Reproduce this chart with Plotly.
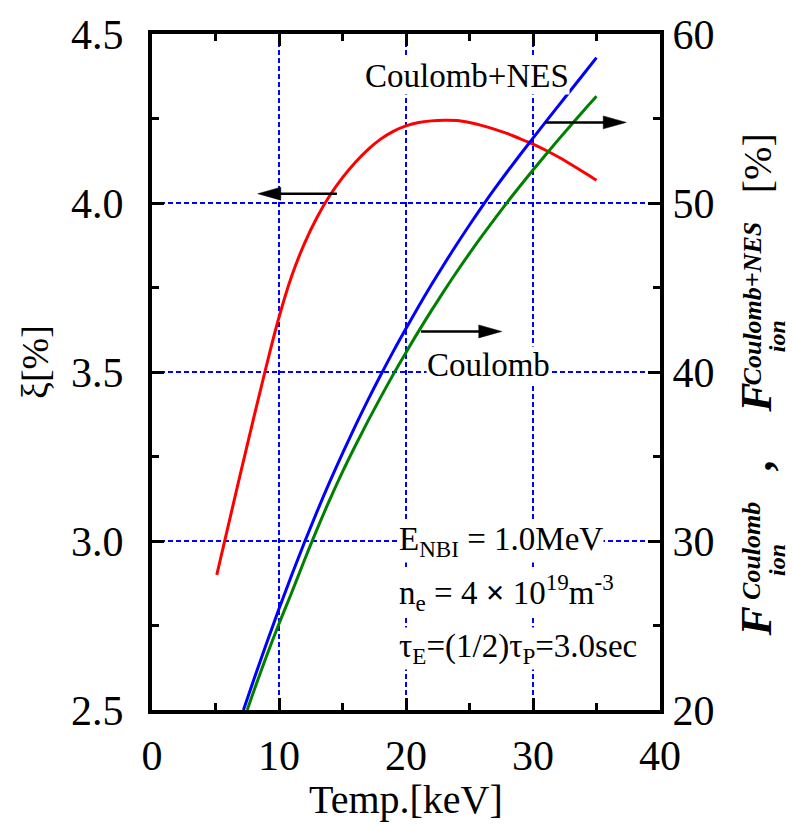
import plotly.graph_objects as go

FONT = "Liberation Serif"

# Ion heating fraction xi [%] (left axis) vs. temperature [keV]
temp_xi = [5.1, 6, 7, 8, 9, 10, 11, 12, 13, 14, 15, 16, 17, 18, 19, 20,
           21, 22, 23, 24, 25, 26, 27, 28, 29, 30, 31, 32, 33, 34, 35]
xi_pct = [2.90, 3.045, 3.205, 3.363, 3.517, 3.662, 3.784, 3.880, 3.958, 4.022,
          4.075, 4.120, 4.158, 4.189, 4.212, 4.228, 4.238, 4.243, 4.245, 4.244,
          4.238, 4.229, 4.218, 4.205, 4.190, 4.174, 4.156, 4.136, 4.114, 4.091, 4.067]

# F_ion with Coulomb + nuclear elastic scattering [%] (right axis)
temp_nes = [7.2, 8, 9, 10, 11, 12, 13, 14, 15, 16, 17, 18, 19, 20, 21, 22,
            23, 24, 25, 26, 27, 28, 29, 30, 31, 32, 33, 34, 35]
f_ion_nes = [20.0, 21.76, 23.91, 25.99, 27.99, 29.91, 31.75, 33.51, 35.19, 36.80,
             38.34, 39.81, 41.22, 42.57, 43.89, 45.16, 46.38, 47.56, 48.70, 49.80,
             50.86, 51.88, 52.87, 53.84, 54.80, 55.75, 56.70, 57.65, 58.60]

# F_ion with Coulomb collisions only [%] (right axis)
temp_coul = [7.5, 8, 9, 10, 11, 12, 13, 14, 15, 16, 17, 18, 19, 20, 21, 22,
             23, 24, 25, 26, 27, 28, 29, 30, 31, 32, 33, 34, 35]
f_ion_coul = [20.0, 21.08, 23.15, 25.10, 26.95, 28.86, 30.70, 32.45, 34.09, 35.62,
              37.09, 38.50, 39.86, 41.16, 42.42, 43.63, 44.80, 45.93, 47.02, 48.07,
              49.08, 50.07, 51.02, 51.95, 52.86, 53.75, 54.62, 55.48, 56.32]

x_ticks = [0, 10, 20, 30, 40]
x_minor = [5, 15, 25, 35]
xi_ticks = [2.5, 3.0, 3.5, 4.0, 4.5]
xi_minor = [2.75, 3.25, 3.75, 4.25]
f_ticks = [20, 30, 40, 50, 60]
f_minor = [25, 35, 45, 55]

X_RANGE = [0, 40]
XI_RANGE = [2.5, 4.5]
F_RANGE = [20, 60]

W, H = 794, 826
ML, MR, MT, MB = 152, 134, 30, 116
PW, PH = W - ML - MR, H - MT - MB

fig = go.Figure()
fig.add_trace(go.Scatter(x=temp_xi, y=xi_pct, mode="lines", yaxis="y",
                         line=dict(color="rgb(255,0,0)", width=3, shape="spline")))
fig.add_trace(go.Scatter(x=temp_nes, y=f_ion_nes, mode="lines", yaxis="y2",
                         line=dict(color="rgb(0,0,255)", width=3, shape="spline")))
fig.add_trace(go.Scatter(x=temp_coul, y=f_ion_coul, mode="lines", yaxis="y2",
                         line=dict(color="rgb(0,128,0)", width=3, shape="spline")))

tickfont = dict(family=FONT, size=42, color="black")
grid = dict(showgrid=True, gridcolor="rgb(0,0,255)", gridwidth=1.5, griddash="5px,3px")
common = dict(ticks="inside", ticklen=12, tickwidth=3, tickcolor="black",
              showline=True, linewidth=4, linecolor="black", zeroline=False,
              tickfont=tickfont)

fig.update_layout(
    width=W, height=H,
    margin=dict(l=ML, r=MR, t=MT, b=MB, pad=0),
    paper_bgcolor="white", plot_bgcolor="white",
    showlegend=False,
    xaxis=dict(range=X_RANGE, tickmode="array", tickvals=x_ticks,
               ticktext=[str(v) for v in x_ticks], mirror="ticks",
               ticklabelstandoff=6,
               minor=dict(tickmode="array", tickvals=x_minor, ticks="inside",
                          ticklen=7, tickwidth=3, tickcolor="black", showgrid=False),
               **grid, **common),
    yaxis=dict(range=XI_RANGE, tickmode="array", tickvals=xi_ticks,
               ticktext=[f"{v:.1f}" for v in xi_ticks],
               ticklabelstandoff=16,
               minor=dict(tickmode="array", tickvals=xi_minor, ticks="inside",
                          ticklen=7, tickwidth=3, tickcolor="black", showgrid=False),
               **grid, **common),
    yaxis2=dict(range=F_RANGE, overlaying="y", side="right", tickmode="array",
                tickvals=f_ticks, ticktext=[str(v) for v in f_ticks],
                showgrid=False, ticklabelstandoff=0,
                minor=dict(tickmode="array", tickvals=f_minor, ticks="inside",
                           ticklen=7, tickwidth=3, tickcolor="black", showgrid=False),
                **common),
)


def px_to_paper(px, py):
    return (px - ML) / PW, (H - MB - py) / PH


annotations = []


def text_at(text, x, y, size, xref="paper", yref="paper", angle=0,
            xanchor="center", yanchor="middle", bg=None):
    a = dict(text=text, x=x, y=y, xref=xref, yref=yref, showarrow=False,
             textangle=angle, xanchor=xanchor, yanchor=yanchor,
             font=dict(family=FONT, size=size, color="black"),
             borderpad=0)
    if bg:
        a["bgcolor"] = bg
    annotations.append(a)


# Axis titles
px, py = px_to_paper(35, 360)
text_at("ξ[%]", px, py, 38, angle=-90)
px, py = px_to_paper(406, 800)
text_at("Temp.[keV]", px, py, 40)

# Right axis title built from stacked sub/superscript pieces
BIG, SUP, SUB = 44, 26, 24
X_MAIN, X_SUP, X_SUB = 757, 752, 777
right_title = [
    ("<b><i>F</i></b>", X_MAIN, 621, BIG),
    ("<b><i>Coulomb</i></b>", X_SUP, 550, SUP),
    ("<b><i>ion</i></b>", X_SUB, 559, SUB),
    ("<b>,</b>", X_MAIN, 465, BIG),
    ("<b><i>F</i></b>", X_MAIN, 396, BIG),
    ("<b><i>Coulomb+NES</i></b>", X_SUP, 301, SUP),
    ("<b><i>ion</i></b>", X_SUB, 334, SUB),
    ("[%]", X_MAIN, 160, 40),
]
for txt, tx, ty, sz in right_title:
    px, py = px_to_paper(tx, ty)
    text_at(txt, px, py, sz, angle=-90)

# Curve labels
text_at("Coulomb+NES", 24.84, 57.53, 33, xref="x", yref="y2", bg="white")
text_at("Coulomb", 26.46, 40.41, 33, xref="x", yref="y2", bg="white")

# Parameter block
T_LEFT = 19.37
text_at("E<sub>NBI</sub> = 1.0MeV", T_LEFT, 3.0, 33, xref="x", yref="y",
        xanchor="left", bg="white")
text_at("n<sub>e</sub> = 4 <b>×</b> 10<sup>19</sup>m<sup>-3</sup>", T_LEFT, 2.847, 33,
        xref="x", yref="y", xanchor="left", bg="white")
text_at("τ<sub>E</sub>=(1/2)τ<sub>P</sub>=3.0sec", T_LEFT, 2.682, 33,
        xref="x", yref="y", xanchor="left", bg="white")

# Arrows pointing each curve to its axis: (tail T, tip T, level, axis)
arrows = [
    (14.56, 8.33, 4.0275, "y"),
    (30.98, 37.34, 54.77, "y2"),
    (21.18, 27.54, 42.4, "y2"),
]
keV_per_px = (X_RANGE[1] - X_RANGE[0]) / PW
unit_per_px = {"y": (XI_RANGE[1] - XI_RANGE[0]) / PH,
               "y2": (F_RANGE[1] - F_RANGE[0]) / PH}
HEAD_LEN, HEAD_HALF = 23, 6.5
shapes = []
for tail, tip, level, ax in arrows:
    d = 1 if tip > tail else -1
    hl = HEAD_LEN * keV_per_px
    hh = HEAD_HALF * unit_per_px[ax]
    base = tip - d * hl
    shapes.append(dict(type="line", xref="x", yref=ax, x0=tail, x1=base + d * hl * 0.3,
                       y0=level, y1=level, line=dict(color="black", width=2.5)))
    shapes.append(dict(type="path", xref="x", yref=ax,
                       path=f"M{tip},{level} L{base},{level + hh} L{base},{level - hh} Z",
                       fillcolor="black", line=dict(color="black", width=0.5)))

fig.update_layout(annotations=annotations, shapes=shapes)

fig.write_html("out.html")
